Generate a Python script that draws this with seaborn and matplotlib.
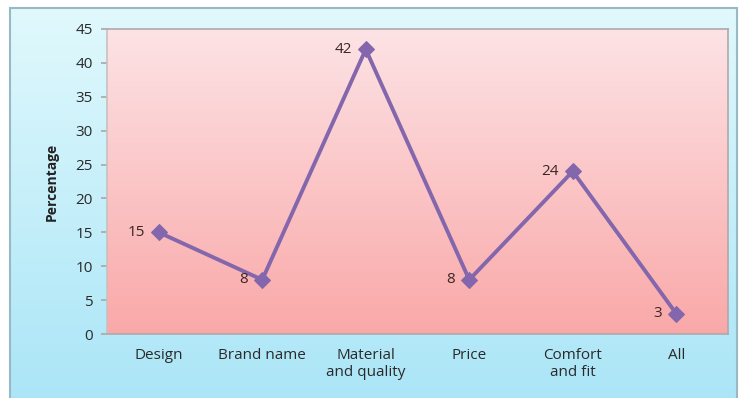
import numpy as np
import pandas as pd
import matplotlib
matplotlib.use("Agg")
import matplotlib.pyplot as plt
import seaborn as sns

categories = ["Design", "Brand name", "Material\nand quality", "Price", "Comfort\nand fit", "All"]
values = [15, 8, 42, 8, 24, 3]
yticks = [0, 5, 10, 15, 20, 25, 30, 35, 40, 45]

sns.set_theme(style="white")
plt.rcParams['font.family'] = ['Open Sans', 'DejaVu Sans']

W, H = 740, 398
fig = plt.figure(figsize=(W / 100, H / 100), dpi=100)

# outer background gradient (cyan)
bg = fig.add_axes([0, 0, 1, 1])
bg.set_axis_off()
grad = np.linspace(0, 1, 256).reshape(-1, 1)
top_c = np.array([0.88, 0.975, 0.99])
bot_c = np.array([0.67, 0.90, 0.97])
img = top_c * (1 - grad[..., None]) + bot_c * grad[..., None]
img = np.repeat(img, 2, axis=1)
bg.imshow(img, extent=[10 / W, 738 / W, 0, 1 - 8 / H], aspect='auto', zorder=0)
bg.set_xlim(0, 1)
bg.set_ylim(0, 1)
bg.add_patch(plt.Rectangle((10 / W, -0.01), 727 / W, 1 - 8 / H + 0.01, fill=False,
                           edgecolor='#9ab8c4', linewidth=1.5, zorder=2))

left, right = 107 / W, 728 / W
bottom, top = 1 - 334 / H, 1 - 29 / H
ax = fig.add_axes([left, bottom, right - left, top - bottom])

df = pd.DataFrame({"cat": categories, "val": values})
x = np.arange(len(categories))

# pink gradient plot area
pgrad = np.linspace(0, 1, 256).reshape(-1, 1)
ptop = np.array([0.99, 0.89, 0.90])
pbot = np.array([0.98, 0.66, 0.66])
pimg = ptop * (1 - pgrad[..., None]) + pbot * pgrad[..., None]
pimg = np.repeat(pimg, 2, axis=1)
ax.imshow(pimg, extent=[-0.5, len(categories) - 0.5, 0, 45], aspect='auto', zorder=0)

sns.lineplot(data=df, x=x, y="val", ax=ax, color='#8466ac', linewidth=2.8,
             marker='D', markersize=8, markeredgecolor='#8466ac', zorder=3)

for xi, v in zip(x, values):
    ax.annotate(str(v), (xi, v), xytext=(-10, 0), textcoords='offset points',
                ha='right', va='center', fontsize=11, color='#3a2626')

ax.set_xlim(-0.5, len(categories) - 0.5)
ax.set_ylim(0, 45)
ax.set_yticks(yticks)
ax.set_yticklabels([str(t) for t in yticks], fontsize=11, color='#2a2a2a')
ax.set_xticks(x)
ax.set_xticklabels(categories, fontsize=11, color='#2a2a2a')
ax.tick_params(axis='y', length=4, color='#aaaaaa', pad=6, left=True)
ax.tick_params(axis='x', length=0, pad=10)
ax.set_xlabel("")
ax.set_ylabel("Percentage", fontsize=10, fontweight='bold', color='#222222', labelpad=12)
for s in ax.spines.values():
    s.set_color('#b0a8a8')
    s.set_linewidth(1.2)
ax.spines['left'].set_color('#c8c0c0')

fig.savefig("out.png", dpi=100)
